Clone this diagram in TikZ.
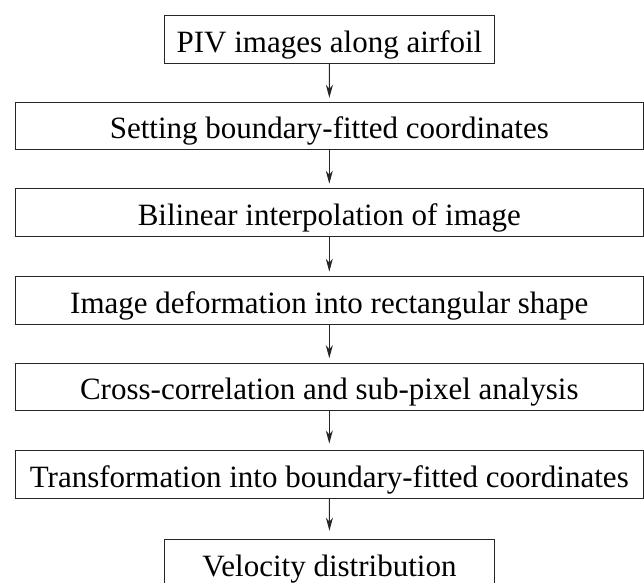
\documentclass[tikz,border=0pt]{standalone}
\usepackage{fontspec}
\setmainfont{Liberation Serif}
\usetikzlibrary{arrows.meta}
\begin{document}
\begin{tikzpicture}[x=1pt,y=-1pt,
  stepbox/.style={draw=black!85, line width=1.1pt, rectangle, inner sep=0pt,
    minimum height=47.5pt, text height=25pt, text depth=0pt,
    font=\fontsize{31}{31}\selectfont, text=black},
  widebox/.style={stepbox, minimum width=628pt},
  narrowbox/.style={stepbox, minimum width=330pt},
  flow/.style={draw=black!85, line width=1.1pt, -{Stealth[length=13pt,width=7pt,inset=4pt]}, shorten >=4.5pt}]
\useasboundingbox (0,0) rectangle (644,582);
\node[narrowbox] (a) at (329.5,39.5) {PIV images along airfoil};
\node[widebox] (b) at (329.3,125.8) {Setting boundary-fitted coordinates};
\node[widebox] (c) at (329.3,212.5) {Bilinear interpolation of image};
\node[widebox] (d) at (329.3,300.5) {Image deformation into rectangular shape};
\node[widebox] (e) at (329.3,387) {Cross-correlation and sub-pixel analysis};
\node[widebox] (f) at (329.3,474.5) {Transformation into boundary-fitted coordinates};
\node[narrowbox] (g) at (329.5,563.5) {Velocity distribution};
\draw[flow, shorten >=3.7pt] (a) -- (b);
\draw[flow] (b) -- (c);
\draw[flow] (c) -- (d);
\draw[flow] (d) -- (e);
\draw[flow, shorten >=6.7pt] (e) -- (f);
\draw[flow, shorten >=8.5pt] (f) -- (g);
\end{tikzpicture}
\end{document}
